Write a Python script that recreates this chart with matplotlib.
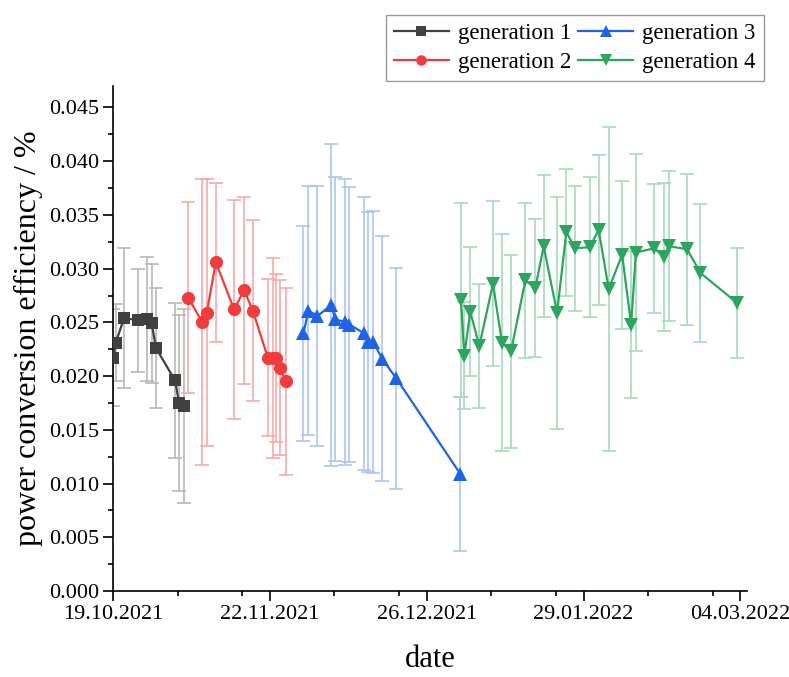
import datetime as dt
import matplotlib
matplotlib.use("Agg")
import matplotlib.pyplot as plt
import matplotlib.dates as mdates
from matplotlib.ticker import MultipleLocator, FixedLocator

plt.rcParams['font.family'] = ['Liberation Serif', 'DejaVu Serif']

start_date = dt.datetime(2021, 10, 19)
end_date = dt.datetime(2022, 3, 5, 10)
tick_dates = ["19.10.2021", "22.11.2021", "26.12.2021", "29.01.2022", "04.03.2022"]

labels = ["generation 1", "generation 2", "generation 3", "generation 4"]

# day offsets from 19.10.2021
gen1_days = [0.07, 0.59, 2.39, 5.49, 7.31, 8.39, 9.33, 13.45, 14.32, 15.47]
gen1_pce = [0.0217, 0.0231, 0.0254, 0.0252, 0.0253, 0.0249, 0.0226, 0.0196, 0.0175, 0.0172]
gen1_err = [0.0045, 0.0036, 0.0065, 0.0048, 0.0058, 0.0055, 0.0056, 0.0072, 0.0082, 0.0090]

gen2_days = [16.33, 19.37, 20.33, 22.28, 26.25, 28.42, 30.30, 33.56, 34.64, 35.36, 36.23, 37.46]
gen2_pce = [0.0273, 0.0250, 0.0259, 0.0306, 0.0262, 0.0280, 0.0261, 0.0217, 0.0217, 0.0217, 0.0208, 0.0195]
gen2_err = [0.0089, 0.0133, 0.0124, 0.0074, 0.0102, 0.0087, 0.0084, 0.0073, 0.0093, 0.0078, 0.0081, 0.0087]

gen3_days = [41.28, 42.36, 44.32, 47.29, 48.22, 50.33, 51.26, 54.34, 55.31, 56.40, 58.35, 61.39, 75.27]
gen3_pce = [0.0240, 0.0261, 0.0256, 0.0266, 0.0253, 0.0250, 0.0248, 0.0240, 0.0232, 0.0232, 0.0216, 0.0198, 0.0109]
gen3_err = [0.0100, 0.0116, 0.0121, 0.0150, 0.0132, 0.0133, 0.0128, 0.0127, 0.0121, 0.0122, 0.0114, 0.0103, 0.0072]

gen4_days = [75.42, 76.14, 77.44, 79.39, 82.36, 84.32, 86.27, 89.37, 91.54, 93.34, 96.25, 98.26, 100.22,
             103.32, 105.27, 107.44, 110.35, 112.30, 113.34, 117.35, 119.37, 120.46, 124.45, 127.33, 135.29]
gen4_pce = [0.0271, 0.0219, 0.0260, 0.0228, 0.0286, 0.0231, 0.0223, 0.0289, 0.0282, 0.0321, 0.0259, 0.0334, 0.0319,
            0.0320, 0.0336, 0.0281, 0.0313, 0.0248, 0.0315, 0.0319, 0.0311, 0.0321, 0.0318, 0.0296, 0.0268]
gen4_err = [0.0090, 0.0050, 0.0060, 0.0058, 0.0077, 0.0101, 0.0090, 0.0072, 0.0064, 0.0066, 0.0108, 0.0059, 0.0058,
            0.0065, 0.0070, 0.0151, 0.0069, 0.0068, 0.0092, 0.0060, 0.0069, 0.0070, 0.0070, 0.0064, 0.0051]

series = [
    (gen1_days, gen1_pce, gen1_err, "#404040", "#b8b8b8", "s", 8.5),
    (gen2_days, gen2_pce, gen2_err, "#f03c3c", "#f7aaaa", "o", 9.5),
    (gen3_days, gen3_pce, gen3_err, "#1f64e6", "#a9c5f4", "^", 10),
    (gen4_days, gen4_pce, gen4_err, "#2da55d", "#a6dbbb", "v", 10),
]

fig = plt.figure(figsize=(7.89, 6.77), dpi=100)
ax = fig.add_axes([113/789, 1-591/677, (747-113)/789, (591-86)/677])

for i, (days, pce, err, col, ecol, mk, ms) in enumerate(series):
    dates = [start_date + dt.timedelta(days=d) for d in days]
    ax.errorbar(dates, pce, yerr=err, fmt='none', ecolor=ecol, elinewidth=1.2,
                capsize=5, capthick=1.2, zorder=1 + i * 0.1)
for i, (days, pce, err, col, ecol, mk, ms) in enumerate(series):
    dates = [start_date + dt.timedelta(days=d) for d in days]
    ax.plot(dates, pce, color=col, lw=1.6, marker=mk, markersize=ms,
            markeredgewidth=0, label=labels[i], zorder=3 + i)

ax.set_xlim(start_date, end_date)
ax.set_ylim(0, 0.047)

major = [dt.datetime.strptime(s, "%d.%m.%Y") for s in tick_dates]
minor = []
for m in major[:-1]:
    minor += [m + dt.timedelta(days=14), m + dt.timedelta(days=28)]
ax.xaxis.set_major_locator(FixedLocator(mdates.date2num(major)))
ax.xaxis.set_minor_locator(FixedLocator(mdates.date2num(minor)))
ax.xaxis.set_major_formatter(mdates.DateFormatter("%d.%m.%Y"))

ax.yaxis.set_major_locator(MultipleLocator(0.005))
ax.yaxis.set_minor_locator(MultipleLocator(0.0025))
ax.yaxis.set_major_formatter(plt.FuncFormatter(lambda v, p: f"{v:.3f}"))

for s in ["top", "right"]:
    ax.spines[s].set_visible(False)
for s in ["left", "bottom"]:
    ax.spines[s].set_linewidth(1.2)

ax.tick_params(which="major", direction="out", length=7, width=1.2, labelsize=16, pad=3)
ax.tick_params(which="minor", direction="out", length=3.5, width=1.2)
ax.tick_params(axis="x", which="major", pad=3)

ax.set_ylabel("power conversion efficiency / %", fontsize=23, labelpad=4)
ax.set_xlabel("date", fontsize=22, labelpad=15)

leg = fig.legend(loc="upper right", bbox_to_anchor=(764/789, 1-15/677), ncol=2,
                 fontsize=16.5, frameon=True, fancybox=False, handlelength=2.4,
                 columnspacing=0.3, handletextpad=0.4, borderpad=0.35, labelspacing=0.35,
                 borderaxespad=0, markerscale=0.8)
leg.get_frame().set_edgecolor("#808080")
leg.get_frame().set_linewidth(1.0)

fig.savefig("out.png", dpi=100)
